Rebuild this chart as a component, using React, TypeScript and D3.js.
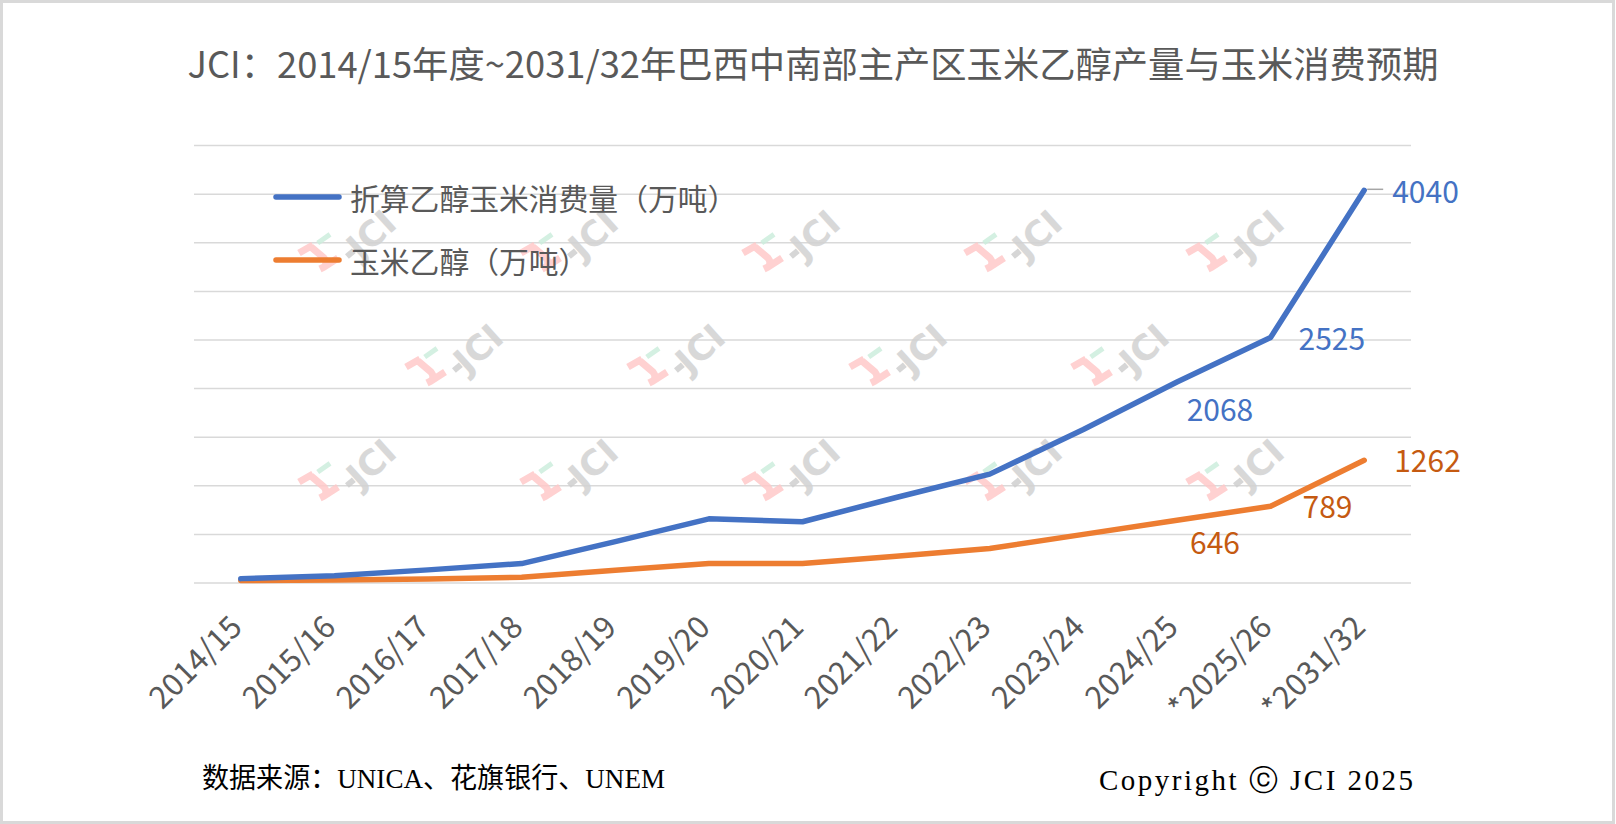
import * as d3 from "d3";

const seasons = [
  "2014/15", "2015/16", "2016/17", "2017/18", "2018/19", "2019/20", "2020/21",
  "2021/22", "2022/23", "2023/24", "2024/25", "*2025/26", "*2031/32",
];
// 折算乙醇玉米消费量（万吨）
const cornUse = [45, 75, 135, 200, 425, 660, 630, 880, 1120, 1580, 2068, 2525, 4040];
// 玉米乙醇（万吨）
const ethanol = [25, 30, 40, 60, 130, 200, 200, 275, 355, 500, 646, 789, 1262];
const yTicks = [0, 500, 1000, 1500, 2000, 2500, 3000, 3500, 4000, 4500];

const W = 1616;
const H = 824;
const FONT = "'Noto Sans CJK SC', 'Noto Sans', sans-serif";
const BLUE = "#4472C4";
const ORANGE = "#ED7D31";
const ORANGE_TXT = "#C55A11";
const GRID = "#d9d9d9";
const TXT = "#595959";

// hand placed labels (index -> offset from point)
const blueLabels = [
  { i: 10, dx: 43, dy: 26, anchor: "middle" },
  { i: 11, dx: 28, dy: -1, anchor: "start" },
  { i: 12, dx: 28, dy: 0, anchor: "start" },
];
const orangeLabels = [
  { i: 10, dx: 38, dy: 21, anchor: "middle" },
  { i: 11, dx: 32, dy: -1, anchor: "start" },
  { i: 12, dx: 30, dy: -1, anchor: "start" },
];

const wmRows = [
  { y: 236, xs: [370, 592, 814, 1036, 1258] },
  { y: 350, xs: [477, 699, 921, 1143] },
  { y: 465, xs: [370, 592, 814, 1036, 1258] },
];

function Watermark({ x, y }: { x: number; y: number }) {
  return (
    <g transform={`translate(${x},${y})`} opacity={0.85}>
      <path
        d="M -71 17 L -57 9 M -59 11 L -46 22 Q -42 27 -46 31 L -50 33 M -46 31 L -32 22"
        fill="none"
        stroke="#ffc9c9"
        strokeWidth={7}
        strokeLinejoin="round"
      />
      <rect x={-54} y={0} width={15} height={5} fill="#cdeedd" transform="rotate(-35,-46,2)" />
      <rect x={-24} y={15} width={9} height={6} fill="#cfcfcf" transform="rotate(-40,-20,18)" />
      <text
        x={2}
        y={0}
        fontFamily="'DejaVu Sans', sans-serif"
        fontWeight="bold"
        fontSize={35}
        fill="#d2d2d2"
        textAnchor="middle"
        dominantBaseline="central"
        transform="rotate(-42)"
      >
        JCI
      </text>
    </g>
  );
}

export default function App() {
  const x = d3.scaleBand<string>().domain(seasons).range([194, 1411]).padding(0);
  const cx = (i: number) => (x(seasons[i]) ?? 0) + x.bandwidth() / 2;
  const y = d3.scaleLinear().domain([0, 4500]).range([583, 145.6]);

  const line = d3
    .line<number>()
    .x((_, i) => cx(i))
    .y((d) => y(d));

  return (
    <svg
      width={W}
      height={H}
      style={{ position: "absolute", left: 0, top: 0, background: "#fff" }}
    >
      <rect x={0} y={0} width={W} height={H} fill="#fff" />
      <rect x={1.5} y={1.5} width={1612} height={821} fill="none" stroke={GRID} strokeWidth={3} />

      <text
        x={813}
        y={78}
        textAnchor="middle"
        fontFamily={FONT}
        fontSize={36.3}
        fill={TXT}
      >
        JCI：2014/15年度~2031/32年巴西中南部主产区玉米乙醇产量与玉米消费预期
      </text>

      {yTicks.map((t) => (
        <line key={t} x1={194} x2={1411} y1={y(t)} y2={y(t)} stroke={GRID} strokeWidth={1.5} />
      ))}

      {wmRows.map((r, ri) =>
        r.xs.map((wx, k) => <Watermark key={`${ri}-${k}`} x={wx} y={r.y} />)
      )}

      {/* legend */}
      <line x1={276} x2={339} y1={197} y2={197} stroke={BLUE} strokeWidth={5.5} strokeLinecap="round" />
      <text x={350} y={197} dominantBaseline="central" fontFamily={FONT} fontSize={29.8} fill={TXT}>
        折算乙醇玉米消费量（万吨）
      </text>
      <line x1={276} x2={339} y1={260} y2={260} stroke={ORANGE} strokeWidth={5.5} strokeLinecap="round" />
      <text x={350} y={260} dominantBaseline="central" fontFamily={FONT} fontSize={29.8} fill={TXT}>
        玉米乙醇（万吨）
      </text>

      <path d={line(ethanol) ?? ""} fill="none" stroke={ORANGE} strokeWidth={5.5} strokeLinejoin="round" strokeLinecap="round" />
      <path d={line(cornUse) ?? ""} fill="none" stroke={BLUE} strokeWidth={5.5} strokeLinejoin="round" strokeLinecap="round" />

      {/* leader line for 4040 */}
      <line x1={cx(12) + 3} x2={cx(12) + 19} y1={y(cornUse[12]) - 1} y2={y(cornUse[12]) - 1} stroke="#a6a6a6" strokeWidth={1.5} />

      {blueLabels.map((l) => (
        <text
          key={`b${l.i}`}
          x={cx(l.i) + l.dx}
          y={y(cornUse[l.i]) + l.dy}
          textAnchor={l.anchor}
          dominantBaseline="central"
          fontFamily={FONT}
          fontSize={30}
          fill={BLUE}
        >
          {cornUse[l.i]}
        </text>
      ))}
      {orangeLabels.map((l) => (
        <text
          key={`o${l.i}`}
          x={cx(l.i) + l.dx}
          y={y(ethanol[l.i]) + l.dy}
          textAnchor={l.anchor}
          dominantBaseline="central"
          fontFamily={FONT}
          fontSize={30}
          fill={ORANGE_TXT}
        >
          {ethanol[l.i]}
        </text>
      ))}

      {seasons.map((s, i) => (
        <text
          key={s}
          transform={`translate(${cx(i) + 3},${629}) rotate(-45)`}
          textAnchor="end"
          fontFamily={FONT}
          fontSize={31}
          fill={TXT}
        >
          {s}
        </text>
      ))}

      <text
        x={202}
        y={788}
        fontFamily="'Liberation Serif', 'Noto Sans CJK SC', serif"
        fontSize={28}
        fill="#000"
        textLength={463}
        lengthAdjust="spacingAndGlyphs"
      >
        数据来源：UNICA、花旗银行、UNEM
      </text>
      <text
        x={1099}
        y={790}
        fontFamily="'Liberation Serif', serif"
        fontSize={29}
        fill="#000"
        textLength={314}
        lengthAdjust="spacing"
      >
        Copyright ⓒ JCI 2025
      </text>
    </svg>
  );
}
